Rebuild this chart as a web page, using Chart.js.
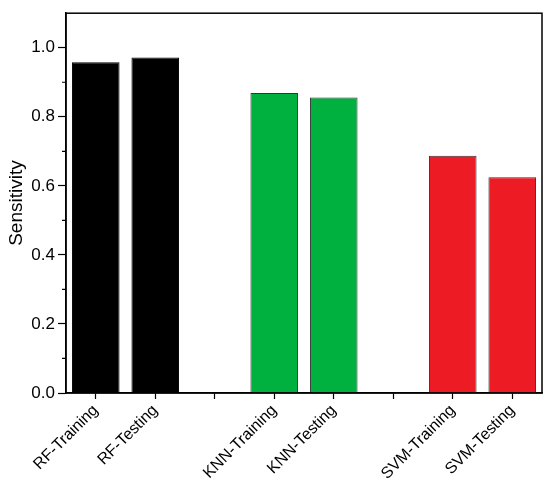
<!DOCTYPE html>
<html><head><meta charset="utf-8">
<script src="https://cdn.jsdelivr.net/npm/chart.js@4"></script>
<style>html,body{margin:0;padding:0;background:#fff}#wrap{width:550px;height:483px}</style>
</head><body><div id="wrap"><canvas id="c" width="550" height="483"></canvas></div>
<script>
const categories = ['RF-Training','RF-Testing','','KNN-Training','KNN-Testing','','SVM-Training','SVM-Testing'];
const sensitivity = [0.958, 0.972, null, 0.869, 0.856, null, 0.687, 0.625];
const barColors = ['#000000','#000000','#ffffff','#00b140','#00b140','#ffffff','#ed1c24','#ed1c24'];
const borderColors = ['#000000','#000000','#ffffff','#333333','#333333','#ffffff','#333333','#333333'];
const yTicks = [0.0, 0.2, 0.4, 0.6, 0.8, 1.0];
const yMinorTicks = [0.1, 0.3, 0.5, 0.7, 0.9];

const framePlugin = {
  id: 'frame',
  afterDraw(chart) {
    const {ctx, chartArea: a, scales} = chart;
    ctx.save();
    ctx.strokeStyle = '#000';
    ctx.lineWidth = 1.5;
    ctx.strokeRect(a.left, a.top, a.right - a.left, a.bottom - a.top);
    ctx.lineWidth = 1.2;
    ctx.beginPath();
    yMinorTicks.forEach(v => {
      const y = scales.y.getPixelForValue(v);
      ctx.moveTo(a.left - 4, y); ctx.lineTo(a.left, y);
    });
    ctx.stroke();
    ctx.restore();
  }
};

new Chart(document.getElementById('c'), {
  type: 'bar',
  data: {
    labels: categories,
    datasets: [{
      data: sensitivity,
      backgroundColor: barColors,
      borderColor: borderColors,
      borderWidth: 1,
      barPercentage: 0.8,
      categoryPercentage: 1.0
    }]
  },
  options: {
    responsive: false,
    animation: false,
    layout: {padding: {left: 5, right: 8, top: 9, bottom: 0}},
    plugins: {legend: {display: false}, tooltip: {enabled: false}},
    scales: {
      x: {
        grid: {display: true, drawOnChartArea: false, tickLength: 6, color: '#000', tickColor: '#000', tickWidth: 1.2, offset: false},
        border: {display: true, color: '#000', width: 1.5},
        ticks: {color: '#000', font: {family: 'Liberation Sans', size: 16}, minRotation: 45, maxRotation: 45, autoSkip: false, padding: 2},
        afterFit(s) { s.height = 90; }
      },
      y: {
        min: 0, max: 1.1,
        afterBuildTicks(s) { s.ticks = yTicks.map(v => ({value: v})); },
        grid: {display: true, drawOnChartArea: false, tickLength: 8, tickColor: '#000', tickWidth: 1.2},
        border: {display: true, color: '#000', width: 1.5},
        ticks: {color: '#000', font: {family: 'Liberation Sans', size: 17}, padding: 3, callback: v => Number(v).toFixed(1)},
        title: {display: true, text: 'Sensitivity', color: '#000', font: {family: 'Liberation Sans', size: 19}, padding: {top: 0, bottom: 3}},
        afterFit(s) { s.width = 61; }
      }
    }
  },
  plugins: [framePlugin]
});
</script>
</body></html>
